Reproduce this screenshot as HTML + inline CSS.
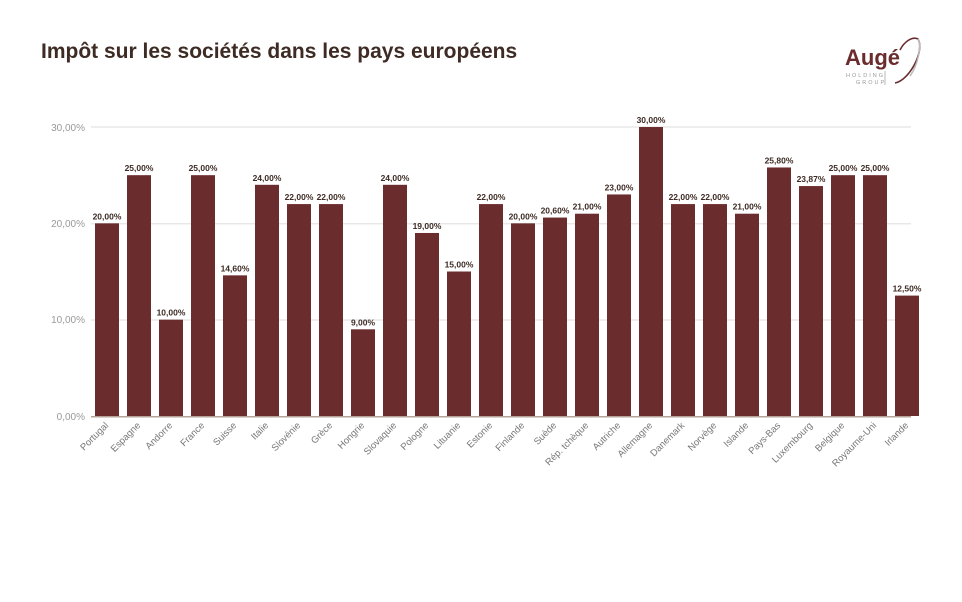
<!DOCTYPE html>
<html><head><meta charset="utf-8"><style>
body{margin:0;background:#fff;width:962px;height:602px;overflow:hidden}
svg{display:block;font-family:"Liberation Sans",sans-serif}
</style></head><body>
<svg width="962" height="602" viewBox="0 0 962 602">
<text x="41" y="58" font-size="21" font-weight="bold" fill="#3d2b24">Impôt sur les sociétés dans les pays européens</text>
<text x="845" y="65" font-size="22" font-weight="bold" fill="#6b2c2e">Augé</text>
<text x="846" y="77" font-size="5.5" letter-spacing="2" fill="#999">HOLDING</text>
<text x="856" y="84" font-size="5.5" letter-spacing="2" fill="#999">GROUP</text>
<line x1="885" y1="71" x2="885" y2="85" stroke="#999" stroke-width="0.7"/>
<path d="M895 83 C910 80 925 50 918 39 C912 36 904 42 900 50" fill="none" stroke="#6b2c2e" stroke-width="1.6"/>
<path d="M918 39 C922 45 918 65 910 76" fill="none" stroke="#bbb" stroke-width="1.5"/>
<g stroke="#e8e8e8" stroke-width="1.5">
<line x1="91" y1="127" x2="911" y2="127"/><line x1="91" y1="223.7" x2="911" y2="223.7"/><line x1="91" y1="320" x2="911" y2="320"/>
</g>
<g font-size="10" fill="#999" text-anchor="end">
<text x="85" y="131">30,00%</text><text x="85" y="227">20,00%</text><text x="85" y="323">10,00%</text><text x="85" y="420">0,00%</text>
</g>
<line x1="91" y1="416.8" x2="911" y2="416.8" stroke="#b5a39a" stroke-width="1.5"/>
<g id="bars" fill="#6b2c2e"></g>
<g id="vals" font-size="8.5" font-weight="bold" fill="#3d2b24" text-anchor="middle"></g>
<g id="labs" font-size="9.5" fill="#777" text-anchor="end"></g>
</svg>
<script>
var v=[20,25,10,25,14.6,24,22,22,9,24,19,15,22,20,20.6,21,23,30,22,22,21,25.8,23.87,25,25,12.5];
var n=["Portugal","Espagne","Andorre","France","Suisse","Italie","Slovénie","Grèce","Hongrie","Slovaquie","Pologne","Lituanie","Estonie","Finlande","Suède","Rép. tchèque","Autriche","Allemagne","Danemark","Norvège","Islande","Pays-Bas","Luxembourg","Belgique","Royaume-Uni","Irlande"];
var ns="http://www.w3.org/2000/svg",b=document.getElementById("bars"),va=document.getElementById("vals"),l=document.getElementById("labs");
function el(t,a,p,tx){var e=document.createElementNS(ns,t);for(var k in a)e.setAttribute(k,a[k]);if(tx)e.textContent=tx;p.appendChild(e);}
v.forEach(function(x,i){var y=416-x*9.633,cx=107+32*i;
el("rect",{x:95+32*i,y:y,width:24,height:416-y},b);
el("text",{x:cx,y:y-4},va,x.toFixed(2).replace(".",",")+"%");
el("text",{x:cx+2,y:426,transform:"rotate(-45 "+(cx+2)+" 426)"},l,n[i]);});
</script>
</body></html>
